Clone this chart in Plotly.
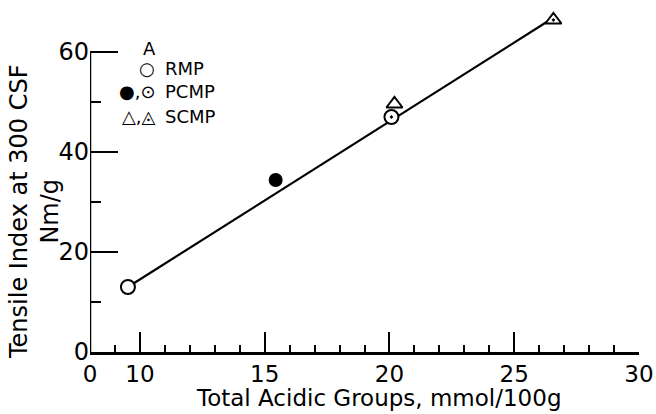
import plotly.graph_objects as go

# Data
rmp_x = [9.52]
rmp_y = [13.0]
pcmp_filled_x = [15.44]
pcmp_filled_y = [34.4]
pcmp_dot_x = [20.08]
pcmp_dot_y = [47.0]
scmp_open_x = [20.2]
scmp_open_y = [49.6]
scmp_dot_x = [26.57]
scmp_dot_y = [66.4]
fit_x = [9.52, 26.3]
fit_y = [13.0, 66.0]

x_tickvals = [8, 10, 15, 20, 25, 30]
x_ticktext = ["0", "10", "15", "20", "25", "30"]
x_minor = [9, 11, 12, 13, 14, 16, 17, 18, 19, 21, 22, 23, 24, 26, 27, 28, 29]
y_tickvals = [0, 20, 40, 60]
y_ticktext = ["0", "20", "40", "60"]
y_minor = [10, 30, 50]

FONT = "DejaVu Sans"
W, H = 656, 414
L, R, T, B = 90, 17, 2, 62

fig = go.Figure()
fig.add_trace(go.Scatter(x=fit_x, y=fit_y, mode="lines",
                         line=dict(color="black", width=2.2), showlegend=False))
# white backgrounds under hollow markers
for xs, ys, sym in [(rmp_x, rmp_y, "circle"), (pcmp_dot_x, pcmp_dot_y, "circle"),
                    (scmp_open_x, scmp_open_y, "triangle-up"), (scmp_dot_x, scmp_dot_y, "triangle-up")]:
    fig.add_trace(go.Scatter(x=xs, y=ys, mode="markers", cliponaxis=False,
                             marker=dict(symbol=sym, size=13, color="white", line=dict(width=0)),
                             showlegend=False))
fig.add_trace(go.Scatter(x=rmp_x, y=rmp_y, mode="markers", cliponaxis=False,
                         marker=dict(symbol="circle-open", size=14, color="black", line=dict(width=2)),
                         showlegend=False))
fig.add_trace(go.Scatter(x=pcmp_filled_x, y=pcmp_filled_y, mode="markers", cliponaxis=False,
                         marker=dict(symbol="circle", size=14, color="black"),
                         showlegend=False))
fig.add_trace(go.Scatter(x=pcmp_dot_x, y=pcmp_dot_y, mode="markers", cliponaxis=False,
                         marker=dict(symbol="circle-open-dot", size=14, color="black", line=dict(width=2)),
                         showlegend=False))
fig.add_trace(go.Scatter(x=scmp_open_x, y=scmp_open_y, mode="markers", cliponaxis=False,
                         marker=dict(symbol="triangle-up-open", size=14, color="black", line=dict(width=2)),
                         showlegend=False))
fig.add_trace(go.Scatter(x=scmp_dot_x, y=scmp_dot_y, mode="markers", cliponaxis=False,
                         marker=dict(symbol="triangle-up-open-dot", size=14, color="black", line=dict(width=2)),
                         showlegend=False))

# y axis line only from 0 to 60
fig.add_shape(type="line", xref="x", yref="y", x0=8, x1=8, y0=0, y1=60,
              line=dict(color="black", width=2.5))

def px(xp):
    return (xp - L) / (W - L - R)

def py(yp):
    return (H - B - yp) / (H - T - B)

ann = []
lf = dict(family=FONT, size=18, color="black")
ann.append(dict(x=px(149), y=py(48), text="A", font=lf, xanchor="center", yanchor="middle"))
ann.append(dict(x=px(157), y=py(69), text="○", font=lf, xanchor="right", yanchor="middle"))
ann.append(dict(x=px(158), y=py(91), text="●,⊙", font=lf, xanchor="right", yanchor="middle"))
ann.append(dict(x=px(158), y=py(116), text="△,◬", font=lf, xanchor="right", yanchor="middle"))
ann.append(dict(x=px(163), y=py(69), text="RMP", font=lf, xanchor="left", yanchor="middle"))
ann.append(dict(x=px(163), y=py(91), text="PCMP", font=lf, xanchor="left", yanchor="middle"))
ann.append(dict(x=px(163), y=py(116), text="SCMP", font=lf, xanchor="left", yanchor="middle"))
# axis titles
ann.append(dict(x=px(379), y=py(398), text="Total Acidic Groups, mmol/100g",
                font=dict(family=FONT, size=23, color="black"), xanchor="center", yanchor="middle"))
ann.append(dict(x=px(34), y=py(212), text="Tensile Index at 300 CSF<br>Nm/g", textangle=-90,
                font=dict(family=FONT, size=24, color="black"), xanchor="center", yanchor="middle"))
for a in ann:
    a.update(xref="paper", yref="paper", showarrow=False)

fig.update_layout(
    width=W, height=H,
    margin=dict(l=L, r=R, t=T, b=B, pad=0),
    paper_bgcolor="white", plot_bgcolor="white",
    font=dict(family=FONT, color="black"),
    annotations=ann,
    xaxis=dict(range=[8, 30], showgrid=False, zeroline=False, showline=True,
               linecolor="black", linewidth=2.5, automargin=False,
               tickmode="array", tickvals=x_tickvals, ticktext=x_ticktext,
               ticks="inside", ticklen=20, tickwidth=2, tickcolor="black",
               tickfont=dict(family=FONT, size=23, color="black"),
               minor=dict(tickmode="array", tickvals=x_minor, ticks="inside",
                          ticklen=7, tickwidth=2, tickcolor="black", showgrid=False)),
    yaxis=dict(range=[0, 70], showgrid=False, zeroline=False, showline=False, automargin=False,
               tickmode="array", tickvals=y_tickvals, ticktext=y_ticktext,
               ticks="inside", ticklen=28, tickwidth=2, tickcolor="black",
               tickfont=dict(family=FONT, size=24, color="black"),
               minor=dict(tickmode="array", tickvals=y_minor, ticks="inside",
                          ticklen=11, tickwidth=2, tickcolor="black", showgrid=False)),
)

fig.write_html("out.html", config={"displayModeBar": False},
               post_script="document.body.style.margin='0';")
